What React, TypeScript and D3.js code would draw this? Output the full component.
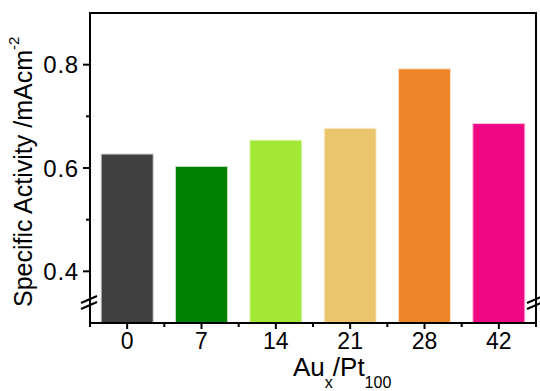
import React, { useEffect, useRef } from 'react';
import * as d3 from 'd3';

// data
const categories = ['0', '7', '14', '21', '28', '42'];
const activity = [0.627, 0.603, 0.654, 0.677, 0.792, 0.686];
const barColors = ['#404040', '#008000', '#A4E836', '#EBC56B', '#EF852B', '#EF0884'];
const majorTicks = [0.4, 0.6, 0.8];
const minorTicks = [0.5, 0.7];

const FONT = '"Liberation Sans", Arial, sans-serif';

export default function App() {
  const ref = useRef<SVGSVGElement>(null);

  useEffect(() => {
    const svg = d3.select(ref.current);
    svg.selectAll('*').remove();

    const left = 90, right = 536, top = 13, bottom = 323;

    const x = d3.scaleBand().domain(categories).range([left, right]).paddingInner(0.3).paddingOuter(0.15);
    const y = d3.scaleLinear().domain([0.3, 0.9]).range([bottom, top]);

    // bars
    svg.append('g')
      .selectAll('rect')
      .data(activity)
      .enter()
      .append('rect')
      .attr('x', (d, i) => x(categories[i]))
      .attr('y', d => y(d))
      .attr('width', x.bandwidth())
      .attr('height', d => bottom - y(d))
      .attr('fill', (d, i) => barColors[i])
      .attr('stroke', (d, i) => d3.interpolateRgb(barColors[i], '#ffffff')(0.75))
      .attr('stroke-width', 1);

    const axis = svg.append('g').attr('stroke', '#000').attr('stroke-width', 2).attr('fill', 'none');

    // frame
    axis.append('line').attr('x1', left).attr('x2', left).attr('y1', top - 1).attr('y2', bottom + 1);
    axis.append('line').attr('x1', right).attr('x2', right).attr('y1', top - 1).attr('y2', bottom + 1);
    axis.append('line').attr('x1', left - 1).attr('x2', right + 1).attr('y1', top).attr('y2', top);
    axis.append('line').attr('x1', left - 1).attr('x2', right + 1).attr('y1', bottom).attr('y2', bottom);

    // y ticks
    axis.selectAll('.maj').data(majorTicks).enter().append('line')
      .attr('x1', left - 7).attr('x2', left).attr('y1', d => y(d)).attr('y2', d => y(d));
    axis.selectAll('.min').data(minorTicks).enter().append('line')
      .attr('x1', left - 4).attr('x2', left).attr('y1', d => y(d)).attr('y2', d => y(d));

    // x ticks: long at category centres, short at the boundaries
    axis.selectAll('.xc').data(categories).enter().append('line')
      .attr('x1', d => x(d) + x.bandwidth() / 2).attr('x2', d => x(d) + x.bandwidth() / 2)
      .attr('y1', bottom).attr('y2', bottom + 6);
    const step = x.step();
    const bounds = d3.range(categories.length + 1).map(i => left + i * step);
    axis.selectAll('.xt').data(bounds).enter().append('line')
      .attr('x1', d => d).attr('x2', d => d).attr('y1', bottom).attr('y2', bottom + 4);

    // axis break marks
    [left, right].forEach(bx => {
      [0, 6].forEach(off => {
        axis.append('line')
          .attr('x1', bx - 9).attr('y1', 303 + off)
          .attr('x2', bx + 7).attr('y2', 296 + off);
      });
    });

    // tick labels
    svg.append('g')
      .selectAll('text')
      .data(majorTicks)
      .enter()
      .append('text')
      .attr('x', left - 11)
      .attr('y', d => y(d))
      .attr('dy', '0.36em')
      .attr('text-anchor', 'end')
      .attr('font-family', FONT)
      .attr('font-size', 24)
      .attr('letter-spacing', 0.8)
      .text(d => d3.format('.1f')(d));

    svg.append('g')
      .selectAll('text')
      .data(categories)
      .enter()
      .append('text')
      .attr('x', d => x(d) + x.bandwidth() / 2)
      .attr('y', 348.5)
      .attr('text-anchor', 'middle')
      .attr('font-family', FONT)
      .attr('font-size', 23)
      .text(d => d);

    // x title
    const xt = svg.append('text')
      .attr('x', 293)
      .attr('y', 376)
      .attr('font-family', FONT)
      .attr('font-size', 26);
    xt.append('tspan').text('Au');
    xt.append('tspan').attr('font-size', 16).attr('dy', 12).text('x');
    xt.append('tspan').attr('dy', -12).text('/Pt');
    xt.append('tspan').attr('font-size', 16).attr('dy', 12).text('100');

    // y title
    const yt = svg.append('text')
      .attr('transform', 'translate(32,307) rotate(-90)')
      .attr('font-family', FONT)
      .attr('font-size', 25);
    yt.append('tspan').text('Specific Activity /mAcm');
    yt.append('tspan').attr('font-size', 15).attr('dy', -13).text('-2');
  }, []);

  return (
    <svg
      ref={ref}
      width={540}
      height={391}
      style={{ position: 'absolute', left: 0, top: 0, background: '#fff' }}
    />
  );
}
